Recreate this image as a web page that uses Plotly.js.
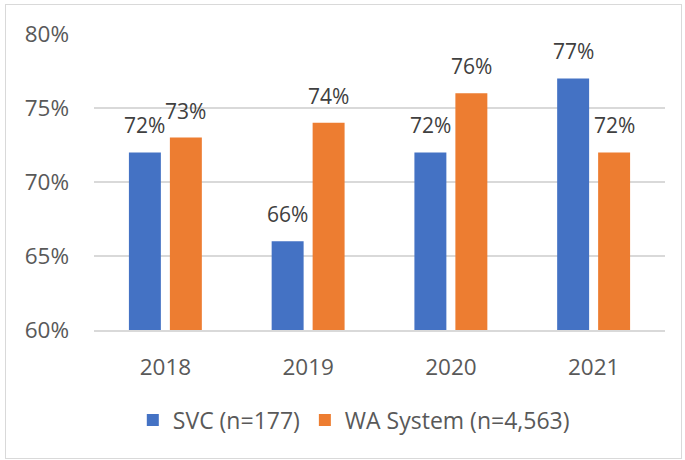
<!DOCTYPE html>
<html>
<head>
<meta charset="utf-8">
<script src="https://cdn.plot.ly/plotly-3.0.1.min.js"></script>
<style>
html,body{margin:0;padding:0;background:#fff;}
#wrap{position:relative;width:685px;height:460px;}
#chart{position:absolute;left:0;top:0;width:685px;height:460px;}
#frame{position:absolute;left:5px;top:4px;width:675px;height:453px;border:1.5px solid #d9d9d9;pointer-events:none;}
</style>
</head>
<body>
<div id="wrap"><div id="chart"></div><div id="frame"></div></div>
<script>
const years = ['2018', '2019', '2020', '2021'];
const svcValues = [72, 66, 72, 77];
const waValues = [73, 74, 76, 72];
const svcName = 'SVC (n=177)';
const waName = 'WA System (n=4,563)';
const yTicks = [60, 65, 70, 75, 80];

const blue = '#4472C4', orange = '#ED7D31';
const traces = [
  {type:'bar', name: svcName, x: years, y: svcValues, marker:{color: blue}, hoverinfo:'none'},
  {type:'bar', name: waName, x: years, y: waValues, marker:{color: orange}, hoverinfo:'none'}
];

const annotations = [];
[[svcValues, -20.5], [waValues, 20.5]].forEach(([vals, dx]) => {
  vals.forEach((v, i) => {
    annotations.push({
      x: i, y: v, xref:'x', yref:'y', text: v + '%', showarrow:false,
      xanchor:'center', yanchor:'bottom', xshift: dx, yshift: 11,
      font:{family:'Open Sans, sans-serif', size:21, color:'#404040'}
    });
  });
});

const layout = {
  width:685, height:460,
  margin:{l:94, r:20, t:34, b:130},
  paper_bgcolor:'#fff', plot_bgcolor:'#fff',
  barmode:'group', bargap:0.426, bargroupgap:0.22,
  showlegend:true,
  legend:{orientation:'h', x:0.455, xanchor:'center', y:-0.304, yanchor:'middle',
    font:{family:'Open Sans, sans-serif', size:23, color:'#595959'}, itemwidth:30},
  xaxis:{type:'category', range:[-0.5, 3.5], tickfont:{family:'Open Sans, sans-serif', size:22.5, color:'#595959'},
    showline:true, linecolor:'#d9d9d9', linewidth:1.5, ticks:'', ticklabelstandoff:16, showgrid:false},
  yaxis:{range:[60,80], tickvals: yTicks, ticktext: yTicks.map(t => t + '%'),
    tickfont:{family:'Open Sans, sans-serif', size:22.5, color:'#595959'},
    gridcolor:'#d9d9d9', gridwidth:1.5, zeroline:false, showline:false, ticks:'', ticklabelstandoff:24},
  annotations: annotations
};

Plotly.newPlot('chart', traces, layout, {displayModeBar:false, staticPlot:true});
</script>
</body>
</html>
